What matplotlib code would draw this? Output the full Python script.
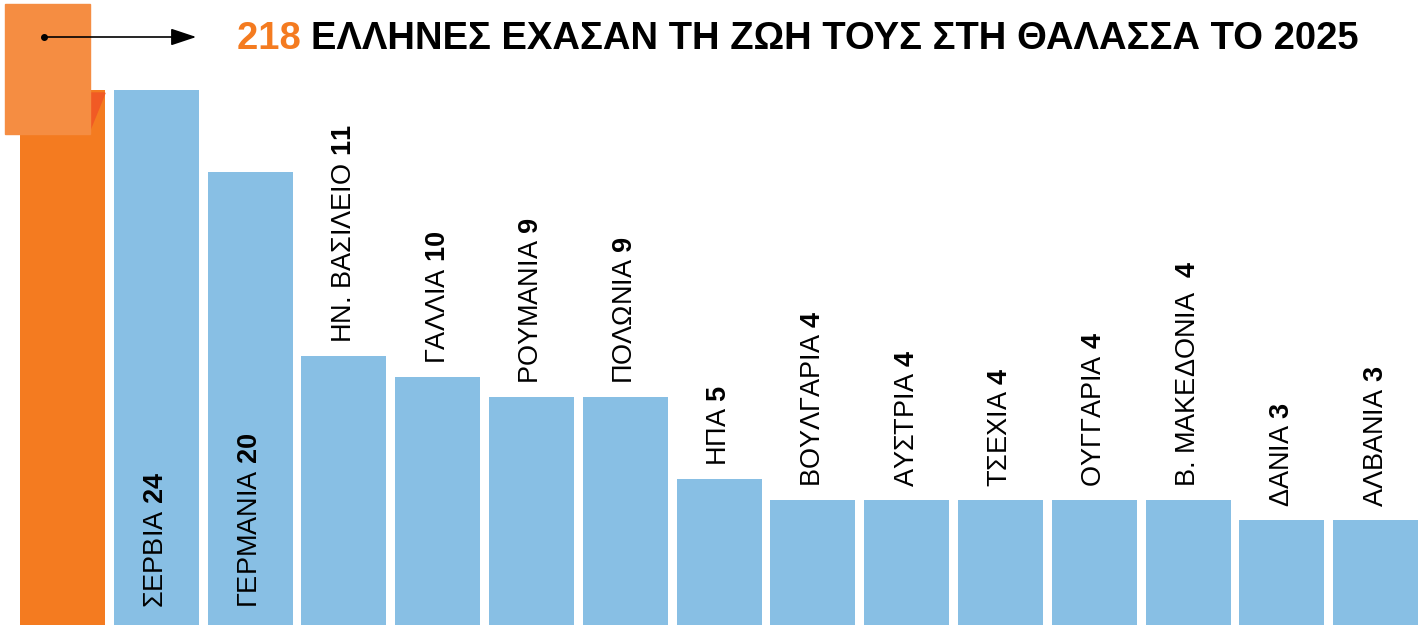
import matplotlib
matplotlib.use("Agg")
import matplotlib.pyplot as plt
from matplotlib.patches import Rectangle, Polygon, FancyArrowPatch
from matplotlib.lines import Line2D
from matplotlib.transforms import offset_copy
from matplotlib import font_manager

# ---- data ----
total_label = "218"
total_value = 218
title_rest = "ΕΛΛΗΝΕΣ ΕΧΑΣΑΝ ΤΗ ΖΩΗ ΤΟΥΣ ΣΤΗ ΘΑΛΑΣΣΑ ΤΟ 2025"
countries = ["ΣΕΡΒΙΑ", "ΓΕΡΜΑΝΙΑ", "ΗΝ. ΒΑΣΙΛΕΙΟ", "ΓΑΛΛΙΑ", "ΡΟΥΜΑΝΙΑ",
             "ΠΟΛΩΝΙΑ", "ΗΠΑ", "ΒΟΥΛΓΑΡΙΑ", "ΑΥΣΤΡΙΑ", "ΤΣΕΧΙΑ", "ΟΥΓΓΑΡΙΑ",
             "Β. ΜΑΚΕΔΟΝΙΑ ", "ΔΑΝΙΑ", "ΑΛΒΑΝΙΑ"]
values = [24, 20, 11, 10, 9, 9, 5, 4, 4, 4, 4, 4, 3, 3]

# ---- style ----
ORANGE = "#F47B20"
ORANGE_LIGHT = "#F58D42"
ORANGE_FOLD = "#F15A24"
BLUE = "#88BFE4"
W, H = 1422, 625

names = {f.name for f in font_manager.fontManager.ttflist}
title_family = "Liberation Sans Narrow" if "Liberation Sans Narrow" in names else "Liberation Sans"

plt.rcParams["mathtext.fontset"] = "custom"
plt.rcParams["mathtext.rm"] = "Liberation Sans"
plt.rcParams["mathtext.bf"] = "Liberation Sans:bold"

fig = plt.figure(figsize=(W / 100, H / 100), dpi=100)
ax = fig.add_axes([0, 0, 1, 1])
ax.set_axis_off()

base = -2.1
ax.set_xlim(-0.666, 14.494)
ax.set_ylim(base, 28.39)
bw = 0.906

# orange total bar, clipped at height of the tallest country bar
tb = ax.bar([0], [total_value - base], bottom=base, width=bw, color=ORANGE, zorder=1)
clip = Rectangle((-1, base), 2, max(values) - base, transform=ax.transData)
tb[0].set_clip_path(clip)

xs = list(range(1, len(values) + 1))
ax.bar(xs, [v - base for v in values], bottom=base, width=bw, color=BLUE, zorder=1)

for x, name, v in zip(xs, countries, values):
    label = f"{name} $\\mathbf{{{v}}}$"
    if v > 15:
        tr = offset_copy(ax.transData, fig=fig, x=0, y=17, units="dots")
        ax.text(x, base, label, rotation=90, ha="center", va="bottom",
                fontsize=19.5, family="Liberation Sans", transform=tr, zorder=3)
    else:
        tr = offset_copy(ax.transData, fig=fig, x=0, y=13, units="dots")
        ax.text(x, v, label, rotation=90, ha="center", va="bottom",
                fontsize=19.5, family="Liberation Sans", transform=tr, zorder=3)

# decorations in pixel coords
def px(x, y):
    return (x / W, 1 - y / H)

fig.patches.append(Polygon([px(90, 93), px(105, 93), px(90, 130)], closed=True,
                           color=ORANGE_FOLD, transform=fig.transFigure, zorder=2))
fig.patches.append(Rectangle(px(5, 134), 85 / W, 130 / H, color=ORANGE_LIGHT,
                             transform=fig.transFigure, zorder=2))

fig.add_artist(FancyArrowPatch(
    px(44, 37), px(199, 37), transform=fig.transFigure,
    arrowstyle="-|>,head_length=12,head_width=4", mutation_scale=1.3,
    color="black", lw=1.2, zorder=4))
fig.add_artist(Line2D([44 / W], [1 - 37 / H], marker="o", markersize=4,
                      color="black", transform=fig.transFigure, zorder=4))

# title: fit between x=237 and x=1362
x0, x1, yb = 237, 1362, 49
fs = 28
t1 = fig.text(x0 / W, 1 - yb / H, total_label + " ", color=ORANGE, fontsize=fs,
              weight="bold", family=title_family, va="baseline", ha="left")
t2 = fig.text(0, 1 - yb / H, title_rest, color="black", fontsize=fs,
              weight="bold", family=title_family, va="baseline", ha="left")
fig.canvas.draw()
r = fig.canvas.get_renderer()
wtot = t1.get_window_extent(r).width + t2.get_window_extent(r).width
fs = fs * (x1 - x0) / wtot
t1.set_fontsize(fs)
t2.set_fontsize(fs)
fig.canvas.draw()
t2.set_x(t1.get_window_extent(r).x1 / W)

fig.savefig("out.png", dpi=100)
